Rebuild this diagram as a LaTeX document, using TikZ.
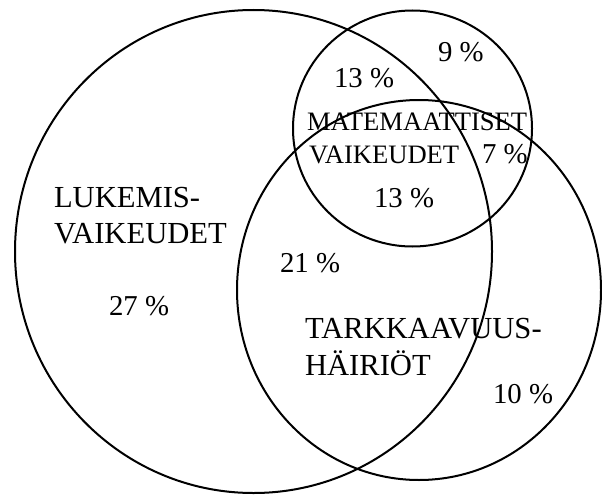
\documentclass[tikz,border=0pt]{standalone}
\usepackage{fontspec}
\setmainfont{Liberation Serif}
\begin{document}
\begin{tikzpicture}[x=1pt,y=-1pt,
  venn/.style={draw=black,line width=2pt},
  lbl/.style={anchor=base west,inner sep=0pt,outer sep=0pt,font=\fontsize{30.6}{35}\selectfont},
  mlbl/.style={anchor=base west,inner sep=0pt,outer sep=0pt,font=\fontsize{26.6}{30}\selectfont},
  pct/.style={anchor=base west,inner sep=0pt,outer sep=0pt,font=\fontsize{28.8}{33}\selectfont}]
\useasboundingbox (0,0) rectangle (602,495);
% circles
\draw[venn] (253.5,251.5) ellipse [x radius=238.5,y radius=241.5];
\draw[venn] (412.5,128.5) ellipse [x radius=119.5,y radius=118];
\draw[venn] (419,290) ellipse [x radius=182,y radius=190];
% labels
\node[pct] (p9) at (438,62) {9 \%};
\node[pct] (p13a) at (334,88) {13 \%};
\node[mlbl] (mat1) at (307,130) {MATEMAATTISET};
\node[mlbl] (mat2) at (309,163) {VAIKEUDET};
\node[pct] (p7) at (482,163) {7 \%};
\node[pct] (p13b) at (374,207) {13 \%};
\node[lbl] (luk1) at (54,207) {LUKEMIS-};
\node[lbl] (luk2) at (54,243) {VAIKEUDET};
\node[pct] (p21) at (280,272) {21 \%};
\node[pct] (p27) at (109,315) {27 \%};
\node[lbl] (tar1) at (305,338) {TARKKAAVUUS-};
\node[lbl] (tar2) at (305,375) {HÄIRIÖT};
\node[pct] (p10) at (493,403) {10 \%};
\end{tikzpicture}
\end{document}
